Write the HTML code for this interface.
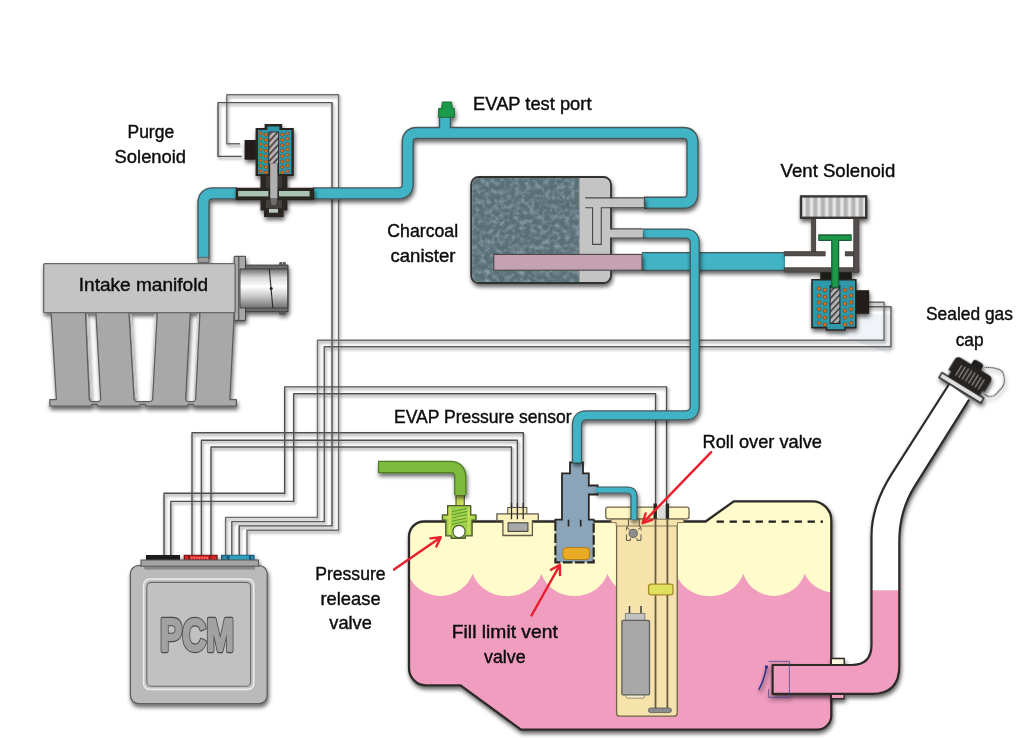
<!DOCTYPE html>
<html>
<head>
<meta charset="utf-8">
<title>EVAP system diagram</title>
<style>
html,body{margin:0;padding:0;background:#fff;}
body{width:1024px;height:738px;overflow:hidden;font-family:"Liberation Sans",sans-serif;}
svg{display:block;}
text{font-family:"Liberation Sans",sans-serif;fill:#0c0c0c;}
#labels text{stroke:#0c0c0c;stroke-width:0.4px;}
</style>
</head>
<body>
<svg width="1024" height="738" viewBox="0 0 1024 738">
<defs>
  <filter id="sh" filterUnits="userSpaceOnUse" x="0" y="0" width="1024" height="738">
    <feGaussianBlur in="SourceAlpha" stdDeviation="2.1" result="b"/>
    <feOffset in="b" dx="1.4" dy="3.2" result="o"/>
    <feComponentTransfer in="o" result="s"><feFuncA type="linear" slope="0.62"/></feComponentTransfer>
    <feMerge><feMergeNode in="s"/><feMergeNode in="SourceGraphic"/></feMerge>
  </filter>
  <filter id="shw" filterUnits="userSpaceOnUse" x="0" y="0" width="1024" height="738">
    <feGaussianBlur in="SourceAlpha" stdDeviation="1.7" result="b"/>
    <feOffset in="b" dx="1.4" dy="1.8" result="o"/>
    <feComponentTransfer in="o" result="s"><feFuncA type="linear" slope="0.5"/></feComponentTransfer>
    <feMerge><feMergeNode in="s"/><feMergeNode in="SourceGraphic"/></feMerge>
  </filter>
  <filter id="char" x="0" y="0" width="100%" height="100%" color-interpolation-filters="sRGB">
    <feTurbulence type="fractalNoise" baseFrequency="0.2" numOctaves="2" seed="11" result="n"/>
    <feColorMatrix in="n" type="matrix" values="0 0 0 0 0.62  0 0 0 0 0.72  0 0 0 0 0.76  1.4 0 0 0 -0.56" result="c"/>
    <feComposite in="c" in2="SourceGraphic" operator="in" result="cc"/>
    <feMerge><feMergeNode in="SourceGraphic"/><feMergeNode in="cc"/></feMerge>
  </filter>
  <linearGradient id="tb" x1="0" y1="0" x2="0" y2="1">
    <stop offset="0" stop-color="#6e6e6e"/>
    <stop offset="0.22" stop-color="#d8d8d8"/>
    <stop offset="0.45" stop-color="#ffffff"/>
    <stop offset="0.7" stop-color="#c8c8c8"/>
    <stop offset="1" stop-color="#707070"/>
  </linearGradient>
  <pattern id="hatch" width="10" height="4.5" patternUnits="userSpaceOnUse" patternTransform="rotate(-47)">
    <rect width="10" height="4.5" fill="#b2b2b2"/>
    <rect width="10" height="1.5" fill="#3a3a3a"/>
  </pattern>
  <pattern id="ribs" width="7.6" height="10" patternUnits="userSpaceOnUse" x="807.7">
    <rect width="7.6" height="10" fill="#b2b2b2"/>
    <rect x="1.6" width="4.4" height="10" fill="#cdcdcd"/>
    <rect x="2.5" width="2.6" height="10" fill="#e6e6e6"/>
  </pattern>
  <g id="dotcolP">
      <circle cx="0" cy="133.4" r="1.7"/><circle cx="0" cy="138.8" r="1.7"/><circle cx="0" cy="144.2" r="1.7"/><circle cx="0" cy="149.6" r="1.7"/><circle cx="0" cy="155" r="1.7"/><circle cx="0" cy="160.4" r="1.7"/><circle cx="0" cy="165.8" r="1.7"/><circle cx="0" cy="171.2" r="1.7"/>
    </g>
  <g id="dotcolV">
    <circle cx="0" cy="288.6" r="1.8"/><circle cx="0" cy="295.5" r="1.8"/><circle cx="0" cy="302.4" r="1.8"/><circle cx="0" cy="309.3" r="1.8"/><circle cx="0" cy="316.2" r="1.8"/><circle cx="0" cy="323.1" r="1.8"/>
  </g>
  <clipPath id="tankclip">
    <path d="M409,536.5 A15,15 0 0 1 424,521.5 L705.6,521.5 L733.8,501.3 L812.3,501.3 A19,19 0 0 1 831.3,520.3 L831.3,715.4 A14.3,14.3 0 0 1 817,729.7 L521,729.7 L460.5,685.3 L426,685.3 A17,17 0 0 1 409,668.3 Z"/>
  </clipPath>
</defs>
<rect width="1024" height="738" fill="#ffffff"/>

<path d="M857,314 H890.6 V354.6 L884,352 L830,331.5 H857 Z" fill="#f0f4f8"/>
<!-- WIRES -->
<g id="wires" fill="none" stroke="#505050" stroke-width="1.4" stroke-linejoin="round" filter="url(#shw)">
  <!-- A: purge solenoid -->
  <path stroke="#6c6c6c" d="M240,143.8 H226.8 V94.7 H338.6 V530.3 H247 V556"/>
  <path d="M241.6,156.4 H218 V102.6 H332 V525.9 H239.2 V556"/>
  <!-- B: vent solenoid -->
  <path stroke="#6c6c6c" d="M868,302.2 H884.1 V340.3 H317.5 V517.4 H225.6 V556"/>
  <path stroke="#5c5c5c" d="M868,306.8 H891 V346.8 H324.3 V521.6 H231.8 V556"/>
  <!-- C: pump module -->
  <path d="M666.6,508 V386.9 H284.7 V493.2 H164 V556"/>
  <path d="M655.6,508 V393.8 H293.7 V501.4 H170.8 V556"/>
  <!-- D: pressure sensor -->
  <path d="M523.4,518 V432.7 H192 V556"/>
  <path d="M517.4,518 V440.2 H201.4 V556"/>
  <path d="M511.5,518 V447 H211 V556"/>
</g>

<!-- TANK -->
<g id="tank" filter="url(#sh)">
  <path d="M409,536.5 A15,15 0 0 1 424,521.5 L705.6,521.5 L733.8,501.3 L812.3,501.3 A19,19 0 0 1 831.3,520.3 L831.3,715.4 A14.3,14.3 0 0 1 817,729.7 L521,729.7 L460.5,685.3 L426,685.3 A17,17 0 0 1 409,668.3 Z" fill="#fffbcb"/>
  <g clip-path="url(#tankclip)">
    <path d="M400,560 L408,573.8 A34,32 0 0 0 472.7,573.8 A36,32 0 0 0 541.4,573.8 A34.7,32 0 0 0 607.5,573.8 A36,32 0 0 0 676,573.8 A35.3,32 0 0 0 743.3,573.8 A32.2,32 0 0 0 804.6,573.8 A36,30 0 0 0 872,573.8 V740 H400 Z" fill="#f09dc0"/>
  </g>
  <path d="M409,536.5 A15,15 0 0 1 424,521.5 L705.6,521.5 L733.8,501.3 L812.3,501.3 A19,19 0 0 1 831.3,520.3 L831.3,715.4 A14.3,14.3 0 0 1 817,729.7 L521,729.7 L460.5,685.3 L426,685.3 A17,17 0 0 1 409,668.3 Z" fill="none" stroke="#2e2a28" stroke-width="2.3"/>
  <path d="M716.6,521.6 H823" stroke="#1e1e1e" stroke-width="2.1" stroke-dasharray="7.3 5.7" fill="none"/>
</g>
<!-- FILLER NECK -->
<g id="neck" filter="url(#sh)">
  <clipPath id="neckclip">
    <path id="neckshape" d="M949.2,384 L891.6,474.2 Q871.5,506 871.5,536 V645 Q871.5,665 851.5,665 H772.6 V693.9 H872 Q899.3,693.9 899.3,666 V541 Q899.3,511 914.8,486.1 L969.1,399.6 Z"/>
  </clipPath>
  <path d="M831.3,658.5 H844.2 V665 H831.3 Z" fill="#fffbe0" stroke="#2e2a28" stroke-width="1.4"/>
  <path d="M831.3,693.9 H844.2 V698.8 H831.3 Z" fill="#f09dc0" stroke="#2e2a28" stroke-width="1.4"/>
  <use href="#neckshape" fill="#ffffff"/>
  <rect x="760" y="590.3" width="160" height="120" fill="#f09dc0" clip-path="url(#neckclip)"/>
  <path d="M949.2,384 L891.6,474.2 Q871.5,506 871.5,536 V645 Q871.5,665 851.5,665 H772.6 V693.9 H872 Q899.3,693.9 899.3,666 V541 Q899.3,511 914.8,486.1 L969.1,399.6" fill="none" stroke="#2e2a28" stroke-width="2.2" stroke-linejoin="round"/>
  <!-- flap -->
  <path d="M768.6,661.4 H789.4 V697.4 H768.6 V689" fill="none" stroke="#3b3f8a" stroke-width="0.7"/>
  <path d="M759,689.4 Q764,680 766.4,667.5" fill="none" stroke="#2f3486" stroke-width="1.5" stroke-linecap="round"/>
  <circle cx="766.5" cy="667" r="1.7" fill="#2f3486"/>
  <!-- cap -->
  <g transform="translate(961.4,387.8) rotate(31.5)">
    <path d="M9,-29.5 Q16,-34 21,-35 Q27,-36.5 30,-32.5 Q36,-26 34.2,-20 Q33.6,-14 32,-10.6 Q29.4,-5.6 23,-6.6" fill="none" stroke="#333" stroke-width="0.9"/>
    <path d="M-4,-24 V-29 Q-4,-31.6 -1.5,-31.6 H4.5 Q7.4,-31.6 7.4,-28.6 V-24 Z" fill="#1d1b1a"/>
    <path d="M-17.5,-2.6 V-8.4 H-20.6 V-20.6 Q-20.6,-25.2 -15.6,-25.2 H16.8 Q21.8,-25.2 21.8,-20.2 V-8.4 H19.5 V-2.6 Z" fill="#252220"/>
    <path d="M-11.4,-19.6 V-7.6 M-7.6,-20 V-7.6 M-3.8,-20.2 V-7.6 M0,-20.2 V-7.6 M3.8,-20.2 V-7.6 M7.6,-20 V-7.6 M11.4,-19.6 V-7.6 M15.2,-19 V-7.6" stroke="#8c8c8c" stroke-width="1.3" fill="none"/>
    <rect x="-24.5" y="-2.85" width="49" height="5.7" fill="#dedede" stroke="#2a2624" stroke-width="1.5"/>
  </g>
</g>

<!-- FUEL PUMP MODULE -->
<g id="module">
  <path d="M616.6,522 H677.2 V713.2 Q677.2,716.2 674.2,716.2 H619.6 Q616.6,716.2 616.6,713.2 Z" fill="#f6e2ab" stroke="#6e6448" stroke-width="1.3"/>
  <path d="M611.2,518.8 H683.5 V522.6 H677.5 V526 H616.2 V522.6 H611.2 Z" fill="#f6e2ab" stroke="#8a7d5c" stroke-width="1"/>
  <rect x="605.8" y="507.2" width="83.2" height="11.6" rx="2" ry="2" fill="#fdf7c3" stroke="#6e6448" stroke-width="1.3"/>
  <rect x="657.6" y="505" width="8.4" height="13.6" fill="#dcdcdc"/>
  <!-- rods -->
  <path d="M655.5,518.8 V709 M667.4,518.8 V709" stroke="#665c44" stroke-width="1.8" fill="none"/>
    <path d="M655.2,503.4 V518.8 M667.4,503.4 V518.8" stroke="#2b2724" stroke-width="3.4" fill="none"/>
  <rect x="648.4" y="708" width="23" height="4.6" rx="2.2" fill="#8c8c8c" stroke="#555" stroke-width="0.8"/>
  <!-- float -->
  <rect x="648.6" y="584.2" width="24.4" height="10.6" rx="2.4" ry="2.4" fill="#dfe05e" stroke="#a88a2c" stroke-width="1.3"/>
  <!-- pump -->
  <path d="M629.5,606 V613.5 M641,606 V613.5" stroke="#3c3a38" stroke-width="1.5" fill="none"/>
  <rect x="625.3" y="613.5" width="19.6" height="7.2" fill="#c2c2c2" stroke="#777" stroke-width="0.8"/>
  <rect x="626" y="694.4" width="18.4" height="3.8" rx="1.2" fill="#f3ecd0" stroke="#8a7d5c" stroke-width="0.8"/>
  <rect x="621.9" y="620.4" width="27.6" height="74.4" rx="1" fill="#a8a8a8" stroke="#5e5e5e" stroke-width="1.3"/>
  <!-- roll over valve -->
  <g fill="none" stroke="#4a4643" stroke-width="0.9">
    <path d="M628.4,519.6 V526 L626.4,527.6 V530.4 M639.2,519.6 V526 L641,527.6 V530.4"/>
    <path d="M626.4,534.4 V540.4 H630.4 V538.2 M641,534.4 V540.4 H637 V538.2" />
    <path d="M627,527.4 L629.6,529.6 M640.6,527.4 L638,529.6"/>
  </g>
  <circle cx="633.2" cy="533.4" r="4.1" fill="#8e8e8e" stroke="#555" stroke-width="0.9"/>
</g>

<!-- PRESSURE RELEASE VALVE -->
<g id="prv">
  <rect x="456" y="493" width="8.3" height="13.4" fill="#c9de58" stroke="#55603a" stroke-width="1.2"/>
  <path d="M447.7,505.6 H470.7 V514.9 H476 V520.3 H472.1 V535.9 H465.3 V538.3 H451.2 V535.9 H445.8 V520.3 H442.4 V514.9 H447.7 Z" fill="#9fd04c" stroke="#4d5a32" stroke-width="1.4" stroke-linejoin="round"/>
  <path d="M449.6,507.4 V534 M468.6,507.4 V534" stroke="#d3e35c" stroke-width="2" fill="none" opacity="0.85"/>
  <path d="M444.4,517.6 H474" stroke="#d3e35c" stroke-width="1.6" fill="none" opacity="0.7"/>
  <path d="M452,511.6 L467.4,508.2 M452,514.8 L467.4,511.4 M452,518 L467.4,514.6 M452,521.2 L467.4,517.8 M452,524.4 L467.4,521" stroke="#5c9a2a" stroke-width="1" fill="none"/>
  <circle cx="459" cy="531.5" r="6.1" fill="#fff" stroke="#4d5a32" stroke-width="1.2"/>
</g>

<!-- PRESSURE SENSOR -->
<g id="psensor">
  <rect x="507.7" y="507.5" width="19.1" height="6.8" fill="#f7ecb6" stroke="#5e5a4c" stroke-width="1.1"/>
  <path d="M496.9,513.9 H538.3 V520.6 H532.4 V535.5 H502.9 V520.6 H496.9 Z" fill="#fbf1bd" stroke="#5e5a4c" stroke-width="1.3" stroke-linejoin="round"/>
  <rect x="508.1" y="522.8" width="19.8" height="8.6" fill="#a9a9a9" stroke="#444" stroke-width="1.1"/>
  <path d="M511.5,502.7 V519.2 M517.4,502.7 V519.2 M523.2,502.7 V519.2" stroke="#2e2b28" stroke-width="1.3" fill="none"/>
</g>

<!-- FILL LIMIT VENT VALVE -->
<g id="flvv">
  <path d="M570,462.4 H583 V473.3 H588.8 V485.5 H597.7 V494.5 H588.8 V519.7 H593.7 V562.4 H555.4 V519.7 H562 V473.3 H570 Z" fill="#8aa5ba"/>
  <path d="M555.4,521.5 V519.7 H562 V473.3 H570 V462.4 H583 V473.3 H588.8 V485.5 H597.7 V494.5 H588.8 V519.7 H593.7 V521.5" fill="none" stroke="#2b2724" stroke-width="1.8"/>
  <path d="M555.4,521.5 V562.4 H593.7 V521.5" fill="none" stroke="#2b2724" stroke-width="2.2" stroke-dasharray="9.5 2.6"/>
  <path d="M568.5,519.7 V526.4 M580.7,519.7 V526.4" stroke="#2b2724" stroke-width="1.7" fill="none"/>
  <rect x="562.8" y="547.6" width="26.8" height="12" rx="3.6" ry="3.6" fill="#e9aa26" stroke="#b07d18" stroke-width="1"/>
</g>

<!-- PIPES -->
<g id="pipes" fill="none" stroke-linejoin="round">
  <!-- big pipe canister -> vent solenoid -->
  <g filter="url(#sh)">
    <path d="M642,261.5 H785" stroke="#46565a" stroke-width="19.2"/>
    <path d="M642,261.5 H785" stroke="#3fb3c5" stroke-width="16.4"/>
  </g>
  <!-- manifold -> purge -->
  <g filter="url(#sh)">
    <path id="p1" d="M203.5,259 V203 Q203.5,193.4 213,193.4 H237" stroke="#46565a" stroke-width="12.4"/>
    <path d="M203.5,259 V203 Q203.5,193.4 213,193.4 H237" stroke="#3fb3c5" stroke-width="9.6"/>
    <path d="M198.3,257.3 H208.7 V262.6 H198.3 Z" fill="#9a9a9a" stroke="#555" stroke-width="0.8"/>
  </g>
  <!-- purge -> test port -> canister -->
  <g filter="url(#sh)">
    <path d="M445,135 V116" stroke="#46565a" stroke-width="12.4"/>
    <path d="M313,193.4 H398 Q407.7,193.4 407.7,184 V142.5 Q407.7,133 417,133 H683 Q692.5,133 692.5,142.5 V193 Q692.5,202.8 683,202.8 H644" stroke="#46565a" stroke-width="12.4"/>
    <path d="M445,135 V116" stroke="#3fb3c5" stroke-width="9.6"/>
    <path d="M313,193.4 H398 Q407.7,193.4 407.7,184 V142.5 Q407.7,133 417,133 H683 Q692.5,133 692.5,142.5 V193 Q692.5,202.8 683,202.8 H644" stroke="#3fb3c5" stroke-width="9.6"/>
    <path d="M441.6,108.6 L442.3,102 H451.6 L452.3,108.6 H454.3 V117.3 H438.6 V108.6 Z" fill="#1f9a4c" stroke="#1b6a36" stroke-width="1"/>
  </g>
  <!-- canister port 2 -> fill limit vent valve -->
  <g filter="url(#sh)">
    <path d="M642.6,233.7 H685 Q694.7,233.7 694.7,243 V406 Q694.7,415.4 685,415.4 H586.5 Q577,415.4 577,425 V462.6" stroke="#46565a" stroke-width="10.3"/>
    <path d="M642.6,233.7 H685 Q694.7,233.7 694.7,243 V406 Q694.7,415.4 685,415.4 H586.5 Q577,415.4 577,425 V462.6" stroke="#3fb3c5" stroke-width="7.7"/>
  </g>
  <!-- fill limit valve -> roll over valve -->
  <g filter="url(#sh)">
    <path d="M596,490 H627 Q634,490 634,497 V519.5" stroke="#46565a" stroke-width="7.2"/>
    <path d="M596,490 H627 Q634,490 634,497 V519.5" stroke="#3fb3c5" stroke-width="4.8"/>
  </g>
  <!-- green pressure release pipe -->
  <g filter="url(#sh)">
    <path d="M378,467 H450 Q460.3,467 460.3,477.5 V495" stroke="#4f7d24" stroke-width="12.4"/>
    <path d="M379.2,467 H450 Q460.3,467 460.3,477.5 V495" stroke="#7dba3c" stroke-width="9.8"/>
  </g>
</g>

<!-- COMPONENTS -->
<g id="components">
<!-- INTAKE MANIFOLD -->
<g id="manifold" filter="url(#sh)" stroke-linejoin="round">
  <path d="M51.1,312 H85.4 L89.3,399.6 Q90,401.6 92.2,401.6 H97.8 Q100,401.6 100.7,399.6 L95.9,312 H128.9 L134.1,399.6 Q134.8,401.6 137,401.6 H149.6 Q151.8,401.6 152.6,399.6 L157.3,312 H190.3 L185.6,399.6 Q186.2,401.6 188.4,401.6 H192.8 Q195,401.6 195.6,399.6 L200,312 H234.3 L229.8,399.6 H236.4 V406.2 H193.4 V404.4 H187.8 V406.2 H145.6 V404.4 H140 V406.2 H97.2 V404.4 H91.6 V406.2 H49.8 V399.6 H56.4 Z" fill="#a8a8a8" stroke="#5c5c5c" stroke-width="1.2"/>
  <g stroke="#c4c4c4" stroke-width="0.8" fill="none">
    <path d="M87.4,314 L91.2,398"/><path d="M130.8,314 L135.8,398"/>
    <path d="M155.4,314 L151,398"/><path d="M198,314 L193.9,398"/>
  </g>
  <rect x="234.2" y="256.3" width="11.3" height="64.1" fill="#a8a8a8" stroke="#444" stroke-width="1"/>
  <path d="M238.8,256.3 V320.4" stroke="#444" stroke-width="1"/>
  <rect x="43.7" y="263.7" width="191.4" height="49" rx="1" fill="#c4c4c4" stroke="#686868" stroke-width="1.3"/>
  <rect x="245.5" y="265.1" width="42.5" height="46.6" fill="#6a6a6a" stroke="#3c3c3c" stroke-width="1"/>
  <rect x="240" y="268.9" width="47.7" height="39.1" fill="url(#tb)" stroke="#3c3c3c" stroke-width="0.9"/>
  <path d="M269.3,268.9 L272.8,308" stroke="#2a2a2a" stroke-width="1.1"/>
  <circle cx="271.2" cy="288.5" r="1.5" fill="#222"/>
  <path d="M279.8,265 V262.6 H281.6 V265 M283.2,265 V262.6 H285.2 V265 M279.8,311.8 V314.2 H281.6 V311.8 M283.2,311.8 V314.2 H285.2 V311.8" stroke="#3c3c3c" stroke-width="0.9" fill="#777"/>
</g>

<!-- PURGE SOLENOID -->
<g id="purge" filter="url(#sh)">
  <rect x="244.6" y="140" width="13" height="19.7" fill="#231f1c"/>
  <path d="M264.6,123.9 H282.2 V128.1 H293.8 V176.1 H287.4 V187.7 H314.2 V200.2 H287.4 V210.4 H283.7 V217 H264 V210.4 H260.5 V200.2 H235.7 V187.7 H260.5 V176.1 H255.6 V128.1 H264.6 Z" fill="#2b2724"/>
  <path d="M267.3,126.6 H279.4 V130 H291.4 V174 H258 V130 H267.3 Z" fill="#2e97a8"/>
  <use href="#dotcolP" x="260.6" fill="#e0701e" stroke="#5b3a1e" stroke-width="0.5"/><use href="#dotcolP" x="265.9" y="1.2" fill="#e0701e" stroke="#5b3a1e" stroke-width="0.5"/>
  <use href="#dotcolP" x="282.2" y="1.2" fill="#e0701e" stroke="#5b3a1e" stroke-width="0.5"/><use href="#dotcolP" x="287.5" fill="#e0701e" stroke="#5b3a1e" stroke-width="0.5"/>
  <rect x="268.4" y="131.6" width="10.6" height="43" fill="#2b2724"/>
  <rect x="269.3" y="132.4" width="8.8" height="31" fill="url(#hatch)"/>
  <rect x="266" y="176.1" width="16" height="11.6" fill="#3d3936"/>
  <rect x="238.2" y="191" width="71.4" height="5.4" fill="#a8c3b4"/>
  <rect x="268.4" y="187.7" width="10.6" height="12.5" fill="#2b2724"/>
  <rect x="270.2" y="163.4" width="7.2" height="34.6" fill="#b0b0b0"/>
  <rect x="266" y="200.2" width="16" height="8" fill="#44403c"/>
  <path d="M270.2,198 H277.4 L276,205 H271.6 Z" fill="#6e6e6e"/>
  <rect x="269" y="208.9" width="9" height="3.8" fill="#b8c4c0"/>
</g>

<!-- CHARCOAL CANISTER -->
<g id="canister" filter="url(#sh)">
  <rect x="471.2" y="177" width="139.8" height="106" rx="7.5" ry="7.5" fill="#c4c4c4" stroke="#33302e" stroke-width="1.8"/>
  <path d="M479,178 H579.2 V282 H479 A6.8,6.8 0 0 1 472.2,275.2 V184.8 A6.8,6.8 0 0 1 479,178 Z" fill="#5a6f77" filter="url(#char)"/>
  <path d="M579.2,178 V282" stroke="#8e8e8e" stroke-width="0.8"/>
  <!-- port 1 -->
  <rect x="585.2" y="198.4" width="59" height="9" fill="#c4c4c4"/>
  <path d="M585.2,197.9 H644.4 M585.2,207.8 H592.6 V244.4 H601.3 V207.8 H644.4 M644.4,197.4 V208.3" fill="none" stroke="#4a4643" stroke-width="1.1"/>
  <!-- port 2 -->
  <rect x="610" y="229.4" width="32.6" height="8.4" fill="#c4c4c4"/>
  <path d="M610.2,228.9 H642.6 M610.2,238 H642.6" fill="none" stroke="#4a4643" stroke-width="1.1"/>
  <!-- port 3 pink -->
  <rect x="493.8" y="254.4" width="148.2" height="15.8" fill="#c4a2b2" stroke="#4a4643" stroke-width="1.1"/>
</g>

<!-- VENT SOLENOID -->
<g id="vent" filter="url(#sh)">
  <!-- housing walls -->
  <g fill="#524e4c" stroke="#3a3634" stroke-width="0.6">
    <path d="M811.5,218 H815.8 V256 H825.3 V251.6 H811.5 Z"/>
    <path d="M784.3,251.6 H825.3 V256 H784.3 Z"/>
    <path d="M784.3,267.6 H858.8 V272.2 H784.3 Z"/>
    <path d="M853.6,218 H858.8 V272.2 H853.6 Z"/>
    <path d="M845,251.6 H853.6 V256 H845 Z"/>
  </g>
  <rect x="785" y="256.4" width="68" height="10.8" fill="#fff"/>
  <rect x="816.2" y="218.6" width="37" height="32.6" fill="#fff"/>
  <rect x="825.6" y="250" width="19.2" height="8" fill="#fff"/>
  <!-- cap filter -->
  <rect x="801" y="196.4" width="65.2" height="21.4" fill="url(#ribs)" stroke="#383432" stroke-width="2.4"/>
  <!-- coil -->
  <rect x="820.3" y="272.2" width="31.5" height="8.4" fill="#1d1a18"/>
  <path d="M812,279.8 H855.8 V327.6 H845 V330 H826.5 V327.6 H812 Z" fill="#2e97a8" stroke="#2b2724" stroke-width="1.6"/>
  <rect x="855.8" y="290.2" width="13.4" height="23.6" fill="#231f1c"/>
  <use href="#dotcolV" x="818.9" fill="#e0701e" stroke="#5b3a1e" stroke-width="0.5"/><use href="#dotcolV" x="824.9" y="1.4" fill="#e0701e" stroke="#5b3a1e" stroke-width="0.5"/>
  <use href="#dotcolV" x="844.9" y="1.4" fill="#e0701e" stroke="#5b3a1e" stroke-width="0.5"/><use href="#dotcolV" x="851.1" fill="#e0701e" stroke="#5b3a1e" stroke-width="0.5"/>
  <rect x="829.6" y="285" width="10.8" height="39" fill="#2b2724"/>
  <rect x="830.6" y="288.4" width="8.8" height="34.4" fill="url(#hatch)"/>
  <!-- green T plunger -->
  <path d="M818.9,235 H851.1 V240.4 H838.6 V287.4 H831.8 V240.4 H818.9 Z" fill="#1b9a48" stroke="#1d5c3a" stroke-width="1.3"/>
</g>

<!-- PCM -->
<g id="pcm" filter="url(#sh)">
  <rect x="146" y="555" width="34" height="5.6" fill="#1c1c1c"/>
  <rect x="183.6" y="554.8" width="34" height="6" fill="#6e1a1a"/>
  <rect x="185" y="555.8" width="3" height="4" fill="#d92222"/>
  <rect x="189.6" y="555.8" width="19.4" height="4" fill="#e32626"/>
  <rect x="210.6" y="555.8" width="5.6" height="4" fill="#d92222"/>
  <path d="M191,557.8 H208" stroke="#f7a0a0" stroke-width="1.2" stroke-dasharray="1.4 1.2"/>
  <rect x="221" y="554.8" width="33.6" height="6" fill="#1d5878"/>
  <rect x="222.4" y="555.8" width="4.4" height="4" fill="#2c86a6"/>
  <rect x="229.6" y="555.6" width="19.4" height="4.4" fill="#2f9fbd"/>
  <rect x="251" y="555.8" width="2.6" height="4" fill="#2c86a6"/>
  <rect x="130.4" y="565.6" width="136.8" height="138" rx="8" ry="8" fill="#bababa" stroke="#5e5e5e" stroke-width="1.3"/>
  <rect x="144.4" y="565" width="110.6" height="4.6" fill="#8a8a8a"/>
  <rect x="141" y="560" width="117.6" height="6.2" fill="#a4a4a4" stroke="#555" stroke-width="1"/>
  <rect x="143.6" y="579" width="110.2" height="110.4" rx="6" ry="6" fill="#c1c1c1" stroke="#ececec" stroke-width="1.6"/>
  <rect x="146.8" y="582.4" width="103.8" height="103.8" rx="4.5" ry="4.5" fill="none" stroke="#6a6a6a" stroke-width="1.1"/>
  <g transform="translate(159.9,651.2) scale(0.835,1.135)" font-size="40" font-weight="bold">
    <text x="0" y="0" style="fill:#4c4c4c;stroke:#4c4c4c;stroke-width:3.8;stroke-linejoin:round" vector-effect="non-scaling-stroke">PCM</text>
    <text x="0" y="0" style="fill:#a2a2a2;stroke:#a2a2a2;stroke-width:1.9;stroke-linejoin:round" vector-effect="non-scaling-stroke">PCM</text>
  </g>
</g>
</g>

<!-- LABELS -->
<g id="labels" font-size="17.7">
  <text x="127.5" y="137.9" textLength="46.6" lengthAdjust="spacingAndGlyphs">Purge</text>
  <text x="114.6" y="162.5" textLength="71.5" lengthAdjust="spacingAndGlyphs">Solenoid</text>
  <text x="473.1" y="110.3" textLength="118.4" lengthAdjust="spacingAndGlyphs">EVAP test port</text>
  <text x="780.6" y="176.6" textLength="114.7" lengthAdjust="spacingAndGlyphs">Vent Solenoid</text>
  <text x="387.3" y="236.7" textLength="70.8" lengthAdjust="spacingAndGlyphs">Charcoal</text>
  <text x="390.5" y="261.6" textLength="65" lengthAdjust="spacingAndGlyphs">canister</text>
  <text x="78.8" y="291.4" textLength="129.2" lengthAdjust="spacingAndGlyphs">Intake manifold</text>
  <text x="926" y="320.3" textLength="86.9" lengthAdjust="spacingAndGlyphs">Sealed gas</text>
  <text x="955.7" y="345.5" textLength="27.9" lengthAdjust="spacingAndGlyphs">cap</text>
  <text x="394" y="422.9" textLength="177.7" lengthAdjust="spacingAndGlyphs">EVAP Pressure sensor</text>
  <text x="702.5" y="447.8" textLength="119.5" lengthAdjust="spacingAndGlyphs">Roll over valve</text>
  <text x="315.2" y="579.6" textLength="70.4" lengthAdjust="spacingAndGlyphs">Pressure</text>
  <text x="320.5" y="604.5" textLength="60.1" lengthAdjust="spacingAndGlyphs">release</text>
  <text x="329.3" y="628.8" textLength="42.5" lengthAdjust="spacingAndGlyphs">valve</text>
  <text x="451.8" y="638.2" textLength="106" lengthAdjust="spacingAndGlyphs">Fill limit vent</text>
  <text x="484" y="662.5" textLength="41.6" lengthAdjust="spacingAndGlyphs">valve</text>
  <g stroke="#ea1f2d" stroke-width="2.4" fill="none" stroke-linecap="round" stroke-linejoin="round">
    <path d="M711.2,452.2 L643.6,522.2"/><path d="M652.2,519.8 L642.6,523.2 L645.6,513.4"/>
    <path d="M394,569.6 L439.8,538"/><path d="M430.4,538.4 L440.8,537.2 L436.4,546.4"/>
    <path d="M531.6,615.4 L559.2,566.2"/><path d="M551,569.8 L559.9,564.9 L560,575"/>
  </g>
</g>
</svg>
</body>
</html>
